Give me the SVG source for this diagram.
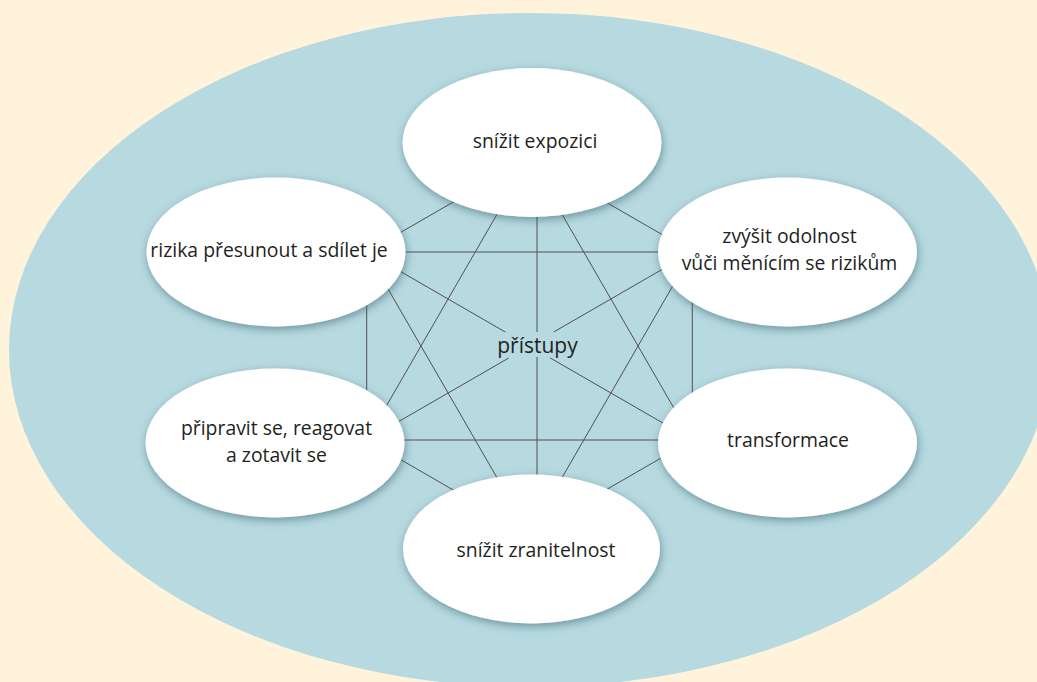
<svg xmlns="http://www.w3.org/2000/svg" width="1037" height="682" viewBox="0 0 1037 682">
  <defs>
    <filter id="sh" x="-20%" y="-20%" width="140%" height="150%">
      <feGaussianBlur in="SourceAlpha" stdDeviation="4"/>
      <feOffset dx="1" dy="3" result="b"/>
      <feFlood flood-color="#2f5f6a" flood-opacity="0.55"/>
      <feComposite in2="b" operator="in"/>
      <feMerge>
        <feMergeNode/>
        <feMergeNode in="SourceGraphic"/>
      </feMerge>
    </filter>
  </defs>
  <style>
    .node { fill: #ffffff; filter: url(#sh); }
    .lbl { font-family: "Open Sans", "Noto Sans", sans-serif; font-size: 19.4px; fill: #231f20; text-anchor: middle; }
    .center { font-size: 21px; }
    .conn line { stroke: #505050; stroke-width: 1; fill: none; }
  </style>
  <rect width="1037" height="682" fill="#fff3dc"/>
  <ellipse id="outer" cx="530" cy="350" rx="521" ry="337" fill="#b7d9e0"/>
  <g id="connectors" class="conn">
    <line x1="529.5" y1="158" x2="692.3" y2="252"/>
    <line x1="692.3" y1="252" x2="692.3" y2="440"/>
    <line x1="692.3" y1="440" x2="529.5" y2="534"/>
    <line x1="529.5" y1="534" x2="366.7" y2="440"/>
    <line x1="366.7" y1="440" x2="366.7" y2="252"/>
    <line x1="366.7" y1="252" x2="529.5" y2="158"/>
    <line x1="529.5" y1="158" x2="692.3" y2="440"/>
    <line x1="529.5" y1="158" x2="366.7" y2="440"/>
    <line x1="529.5" y1="534" x2="692.3" y2="252"/>
    <line x1="529.5" y1="534" x2="366.7" y2="252"/>
    <line x1="366.7" y1="252" x2="692.3" y2="252"/>
    <line x1="366.7" y1="440" x2="692.3" y2="440"/>
    <line x1="537" y1="158" x2="537" y2="332"/>
    <line x1="537" y1="357" x2="537" y2="534"/>
    <line x1="366.7" y1="252" x2="505.3" y2="332"/>
    <line x1="550.3" y1="358" x2="692.3" y2="440"/>
    <line x1="692.3" y1="252" x2="553.7" y2="332"/>
    <line x1="508.7" y1="358" x2="366.7" y2="440"/>
  </g>
  <g id="center-label">
    <text class="lbl center" x="537.5" y="353">přístupy</text>
  </g>
  <g id="n-top">
    <ellipse class="node" cx="532" cy="142.5" rx="129.5" ry="74.5"/>
    <text class="lbl" x="535" y="148">snížit expozici</text>
  </g>
  <g id="n-tl">
    <ellipse class="node" cx="276" cy="252" rx="129.5" ry="74.5"/>
    <text class="lbl" x="269" y="257">rizika přesunout a sdílet je</text>
  </g>
  <g id="n-tr">
    <ellipse class="node" cx="787.5" cy="252" rx="129.5" ry="74.5"/>
    <text class="lbl" x="789.5" y="243">zvýšit odolnost</text>
    <text class="lbl" x="789.5" y="270">vůči měnícím se rizikům</text>
  </g>
  <g id="n-bl">
    <ellipse class="node" cx="275" cy="443" rx="129.5" ry="74.5"/>
    <text class="lbl" x="276.5" y="435">připravit se, reagovat</text>
    <text class="lbl" x="276.5" y="462">a zotavit se</text>
  </g>
  <g id="n-br">
    <ellipse class="node" cx="787.5" cy="443" rx="129.5" ry="74.5"/>
    <text class="lbl" x="788" y="447">transformace</text>
  </g>
  <g id="n-bottom">
    <ellipse class="node" cx="531.5" cy="549" rx="128.5" ry="74.5"/>
    <text class="lbl" x="536" y="557">snížit zranitelnost</text>
  </g>
</svg>
